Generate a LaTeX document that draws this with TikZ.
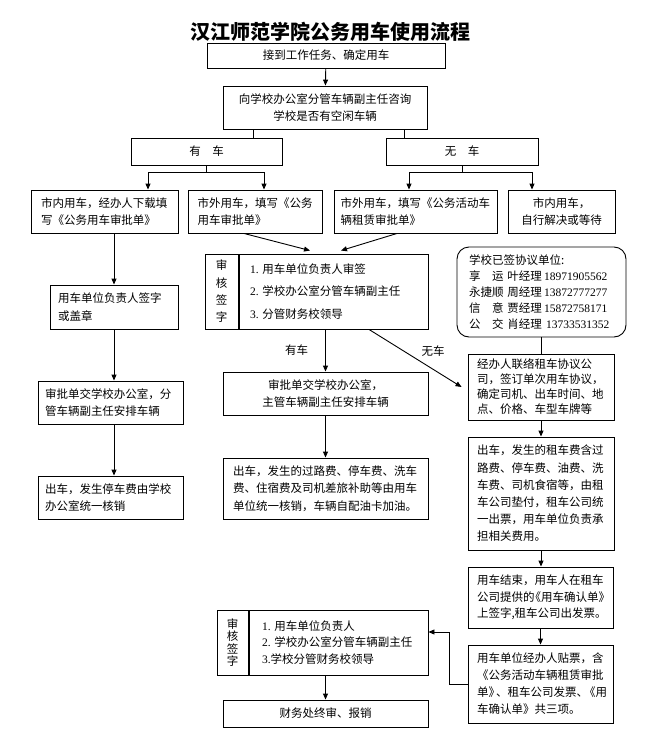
\documentclass[tikz,border=0pt]{standalone}
\usepackage{fontspec}
\setmainfont{Noto Sans CJK SC}
\newfontfamily\latfont{Liberation Serif}
\usetikzlibrary{arrows.meta,positioning}
\newcommand\latnum[1]{{\latfont #1}}

\begin{document}
\begin{tikzpicture}[x=1pt,y=-1pt]
\tikzstyle{box} = [rectangle, draw, line width=0.9pt, inner xsep=8pt, inner ysep=0pt, font=\fontsize{11.5}{17.5}\selectfont]
\tikzstyle{arrow} = [line width=0.9pt, -{Triangle[length=6pt,width=5pt]}]
\tikzstyle{line} = [line width=0.9pt]
\tikzstyle{lbl} = [inner sep=0pt, font=\fontsize{11.5}{14}\selectfont]

\useasboundingbox (0,0) rectangle (648,736);

\node (title) at (330,32) {\fontsize{20}{24}\selectfont\bfseries 汉江师范学院公务用车使用流程};
\node [box, minimum width=238pt, minimum height=25pt] (task) at (326,55.5) {接到工作任务、确定用车};
\node [box, minimum width=204pt, minimum height=43pt, align=center] (ask) at (325,107.5) {向学校办公室分管车辆副主任咨询\\学校是否有空闲车辆};
\node [box, minimum width=151pt, minimum height=27pt] (yes) at (206.5,151.5) {有\quad 车};
\node [box, minimum width=152pt, minimum height=27pt] (no) at (462,151.5) {无\quad 车};

\node [box, minimum width=147pt, minimum height=43pt, text width=127pt, inner xsep=10pt, align=left] (cityin) at (104.5,211.5) {市内用车，经办人下载填\\写《公务用车审批单》};
\node [box, minimum width=134pt, minimum height=43pt, text width=115pt, inner xsep=9.5pt, align=left] (cityout) at (255,211.5) {市外用车，填写《公务\\用车审批单》};
\node [box, minimum width=163pt, minimum height=43pt, text width=150pt, inner xsep=6.5pt, align=left] (rentout) at (415.5,211.5) {市外用车，填写《公务活动车\\辆租赁审批单》};
\node [box, minimum width=107pt, minimum height=43pt, align=center] (selfsolve) at (561.5,211.5) {市内用车，\\自行解决或等待};

\node [box, minimum width=189pt, minimum height=75pt, text width=167pt, inner xsep=11pt, align=left, font=\fontsize{11.5}{22.5}\selectfont] (check) at (333.5,291.5) {\latnum{1.}\ 用车单位负责人审签\\\latnum{2.}\ 学校办公室分管车辆副主任\\\latnum{3.}\ 分管财务校领导};
\node [box, minimum width=33pt, minimum height=75pt, inner xsep=0pt, align=center, font=\fontsize{11.5}{17.3}\selectfont, left=0pt of check] (checklbl) {审\\核\\签\\字};
\node [box, minimum width=128pt, minimum height=44pt, text width=112pt, align=left] (unitsign) at (114,307) {用车单位负责人签字\\或盖章};
\node [box, rounded corners=12pt, minimum width=169pt, minimum height=90pt, text width=145pt, inner xsep=12pt, align=left, font=\fontsize{11.5}{16}\selectfont] (firms) at (541.5,292) {学校已签协议单位:\\
\makebox[34.5pt][s]{享\hfill 运}\hspace{4pt}叶经理\hspace{2pt}\latnum{18971905562}\\
永捷顺\hspace{4pt}周经理\hspace{2pt}\latnum{13872777277}\\
\makebox[34.5pt][s]{信\hfill 意}\hspace{4pt}贾经理\hspace{2pt}\latnum{15872758171}\\
\makebox[34.5pt][s]{公\hfill 交}\hspace{4pt}肖经理\hspace{4pt}\latnum{13733531352}};

\node [box, minimum width=146pt, minimum height=66pt, text width=128pt, inner xsep=9pt, align=left, font=\fontsize{11.5}{15}\selectfont] (contact) at (541,387) {经办人联络租车协议公\\司，签订单次用车协议，\\确定司机、出车时间、地\\点、价格、车型车牌等};
\node [box, minimum width=205pt, minimum height=43pt, align=center] (submit) at (325.5,393.5) {审批单交学校办公室，\\主管车辆副主任安排车辆};
\node [box, minimum width=205pt, minimum height=61pt, text width=185pt, inner xsep=10pt, align=left] (tripfee) at (325.5,488.5) {出车，发生的过路费、停车费、洗车\\费、住宿费及司机差旅补助等由用车\\单位统一核销，车辆自配油卡加油。};
\node [box, minimum width=145pt, minimum height=43pt, text width=131pt, inner xsep=7pt, align=left] (submitA) at (110.5,402.5) {审批单交学校办公室，分\\管车辆副主任安排车辆};
\node [box, minimum width=145pt, minimum height=43pt, text width=131pt, inner xsep=7pt, align=left] (parkfee) at (110.5,497.5) {出车，发生停车费由学校\\办公室统一核销};

\node [box, minimum width=146pt, minimum height=113pt, text width=128pt, inner xsep=9pt, align=left, font=\fontsize{11.5}{17.2}\selectfont] (rentfee) at (541,493.5) {出车，发生的租车费含过\\路费、停车费、油费、洗\\车费、司机食宿等，由租\\车公司垫付，租车公司统\\一出票，用车单位负责承\\担相关费用。};
\node [box, minimum width=145pt, minimum height=61pt, text width=127pt, inner xsep=9pt, align=left, font=\fontsize{11.5}{16.5}\selectfont] (finish) at (540.5,597.5) {用车结束，用车人在租车\\公司提供的\kern-5pt《用车确认单》\\上签字,租车公司出发票。};
\node [box, minimum width=145pt, minimum height=78pt, text width=127pt, inner xsep=9pt, align=left, font=\fontsize{11.5}{17}\selectfont] (receipt) at (540.5,684) {用车单位经办人贴票，含\\《公务活动车辆租赁审批\\单》\kern-4pt、租车公司发票、\kern-4pt《用\\车确认单》共三项。};

\node [box, minimum width=179pt, minimum height=65pt, text width=153pt, inner xsep=13pt, align=left, font=\fontsize{11.5}{16.5}\selectfont] (check2) at (338.5,642.5) {\latnum{1.}\ 用车单位负责人\\\latnum{2.}\ 学校办公室分管车辆副主任\\\latnum{3.}学校分管财务校领导};
\node [box, minimum width=31pt, minimum height=65pt, inner xsep=0pt, align=center, font=\fontsize{11.5}{12.3}\selectfont, left=0pt of check2] (check2lbl) {审\\核\\签\\字};
\node [box, minimum width=205pt, minimum height=27pt] (reimburse) at (325.5,713.5) {财务处终审、报销};

\coordinate (ya) at (148,172);
\coordinate (yb) at (264,172);
\coordinate (na) at (409,172);
\coordinate (nb) at (532,172);

\draw [arrow] (task) -- (ask);
\draw [line] ([xshift=-72pt]ask.south) -- ([xshift=-72pt]ask.south |- yes.north);
\draw [line] ([xshift=79pt]ask.south) -- ([xshift=79pt]ask.south |- no.north);
\draw [line] (yes.south) -- (yes.south |- ya);
\draw [line] (ya) -- (yb);
\draw [arrow] (ya) -- (ya |- cityin.north);
\draw [arrow] (yb) -- (yb |- cityout.north);
\draw [line] (no.south) -- (no.south |- na);
\draw [line] (na) -- (nb);
\draw [arrow] (na) -- (na |- rentout.north);
\draw [arrow] (nb) -- (nb |- selfsolve.north);

\draw [arrow] ([xshift=-11pt]cityout.south) -- ([xshift=-23.5pt,yshift=3pt]check.north);
\draw [arrow] ([xshift=-18.5pt]rentout.south) -- ([xshift=7.5pt,yshift=3pt]check.north);

\draw [arrow] (cityin.south -| unitsign.north) -- (unitsign.north);
\draw [arrow] (unitsign.south) -- (unitsign.south |- submitA.north);
\draw [arrow] (submitA.south -| unitsign.south) -- (parkfee.north -| unitsign.south);

\draw [arrow] (check.south -| submit.north) -- (submit.north) node [lbl, midway, left=17pt] {有车};
\draw [arrow] ([xshift=35.5pt]check.south) -- ([xshift=-6pt]contact.west) node [lbl, pos=0.37, anchor=west, xshift=18pt] {无车};
\draw [arrow] (submit) -- (tripfee);

\draw [line] (firms.south) -- (firms.south |- contact.north);
\draw [arrow] (contact) -- (rentfee);
\draw [arrow] (rentfee.south) -- (rentfee.south |- finish.north);
\draw [arrow] (finish) -- (receipt);
\draw [arrow] (receipt.west) -- ++(-18,0) |- ([yshift=10.5pt]check2.east);
\draw [arrow] (check2.south -| reimburse.north) -- (reimburse.north);
\end{tikzpicture}
\end{document}
